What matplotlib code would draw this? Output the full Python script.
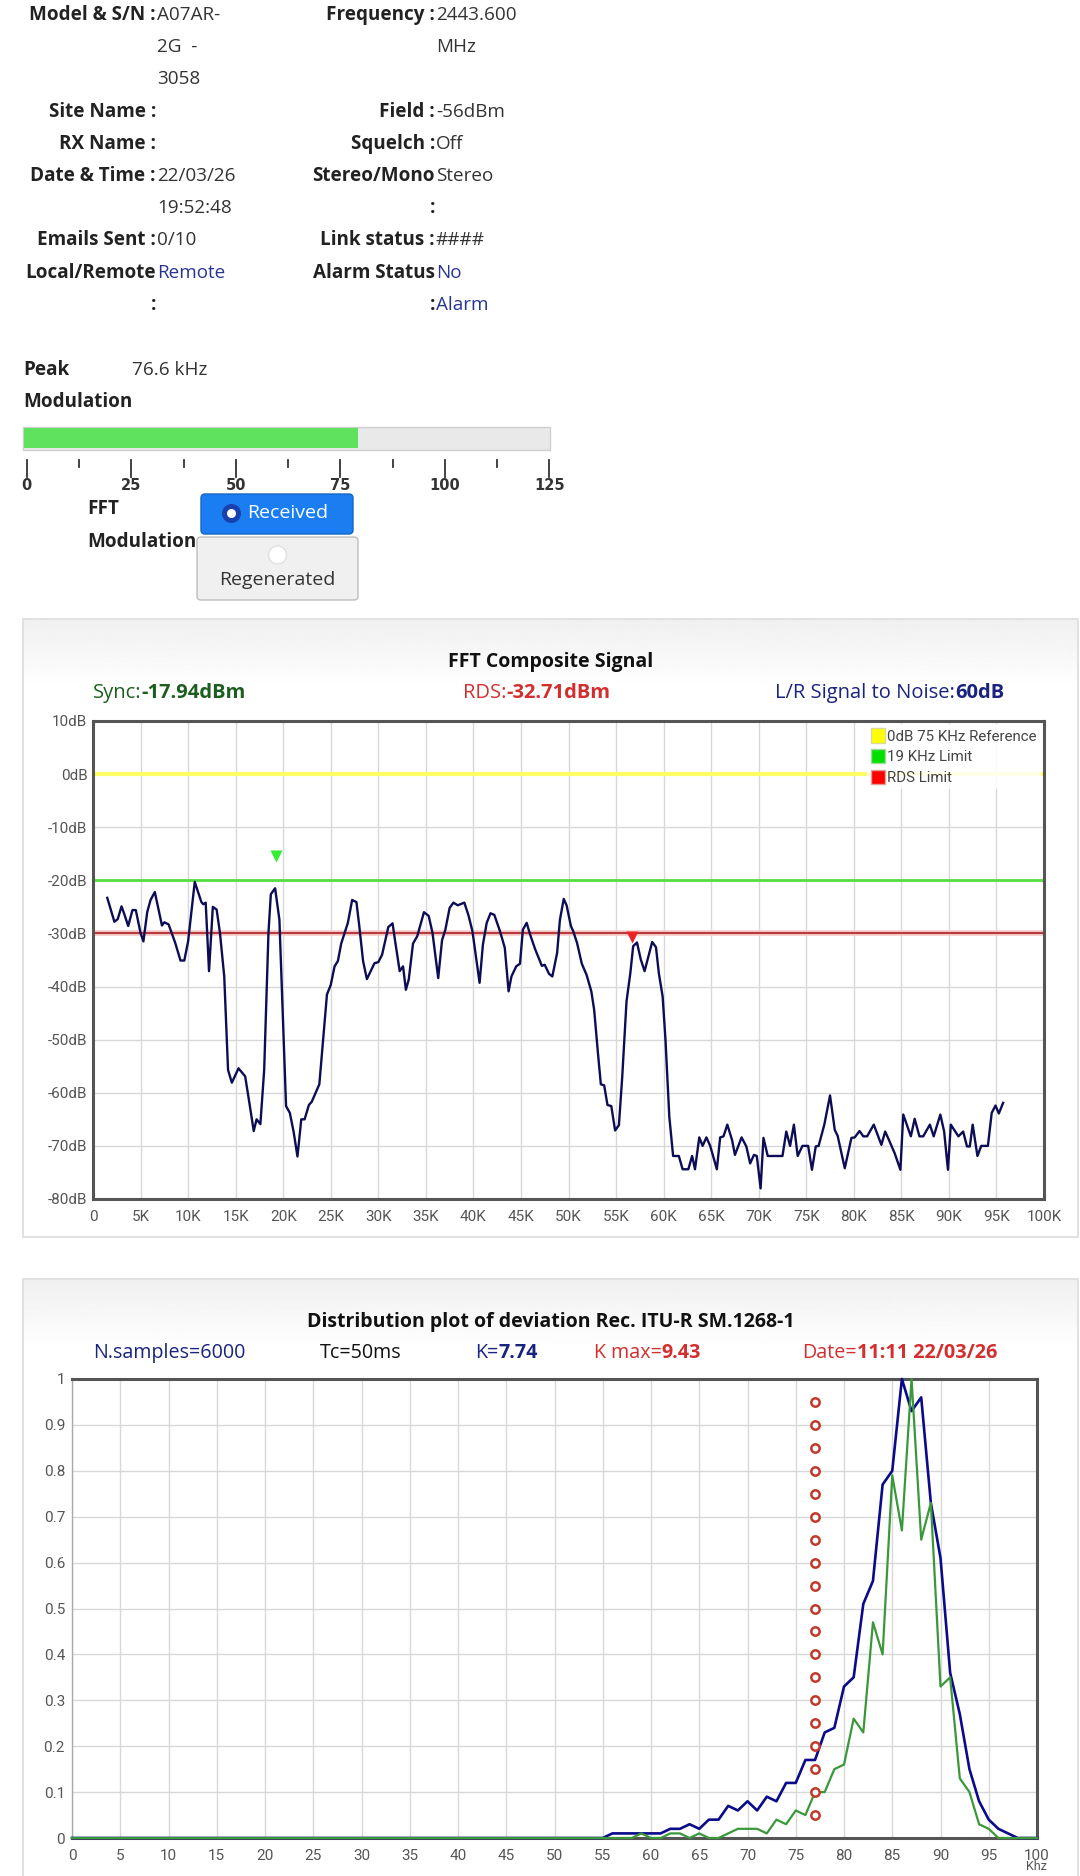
import matplotlib
matplotlib.use("Agg")
import matplotlib.pyplot as plt
import numpy as np
from matplotlib.patches import Rectangle, FancyBboxPatch, Circle, Patch

plt.rcParams['font.family'] = ['Roboto', 'DejaVu Sans']
UI = ['Open Sans', 'DejaVu Sans']   # wider face used for the page text

W, H = 1080, 1876

# ---- header table ----
left_labels = ["Model & S/N :", "", "", "Site Name :", "RX Name :", "Date & Time :", "",
               "Emails Sent :", "Local/Remote", ":"]
left_values = ["A07AR-", "2G  -", "3058", "", "", "22/03/26", "19:52:48", "0/10", "Remote", ""]
right_labels = ["Frequency :", "", "", "Field :", "Squelch :", "Stereo/Mono", ":",
                "Link status :", "Alarm Status", ":"]
right_values = ["2443.600", "MHz", "", "-56dBm", "Off", "Stereo", "", "####", "No", "Alarm"]
blue_values = ["Remote", "No", "Alarm"]

peak_text = "76.6 kHz"
bar_fill = 79.2          # level of the green bar on the 0..125 scale
bar_ticks = [0, 25, 50, 75, 100, 125]

# ---- FFT composite signal ----
fft_khz = [1.5, 2.25, 2.6, 3.0, 3.3, 3.7, 4.15, 4.5, 5.0, 5.3, 5.7, 6.05, 6.5, 7.25, 7.5, 7.95,
           8.65, 9.2, 9.6, 10.0, 10.7, 11.4, 11.6, 11.85, 12.2, 12.6, 13.0, 13.35, 13.8, 14.2,
           14.6, 15.3, 16.0, 16.4, 16.9, 17.2, 17.6, 18.0, 18.45, 18.7, 19.15, 19.6, 20.3, 20.7,
           21.1, 21.5, 21.9, 22.25, 22.7, 23.0, 23.8, 24.6, 25.0, 25.4, 25.75, 26.1, 26.8, 27.25,
           27.7, 28.0, 28.4, 28.8, 29.6, 30.0, 30.4, 31.05, 31.5, 31.8, 32.25, 32.6, 32.9, 33.2,
           33.65, 34.1, 34.8, 35.3, 35.7, 36.3, 36.7, 37.05, 37.5, 37.9, 38.35, 39.05, 39.5, 39.9,
           40.65, 41.0, 41.4, 41.8, 42.2, 42.8, 43.3, 43.7, 44.0, 44.5, 44.9, 45.2, 45.6, 46.0,
           46.5, 47.2, 47.5, 47.95, 48.3, 48.8, 49.1, 49.5, 49.8, 50.25, 50.5, 50.9, 51.4, 51.9,
           52.4, 52.7, 53.1, 53.4, 53.75, 54.1, 54.5, 54.9, 55.3, 55.65, 56.1, 56.5, 56.8, 57.2,
           57.6, 58.0, 58.5, 58.8, 59.2, 59.5, 59.9, 60.2, 60.6, 61.0, 61.6, 62.0, 62.6, 63.0,
           63.3, 63.75, 64.1, 64.5, 64.9, 65.6, 65.95, 66.3, 66.7, 67.2, 67.5, 68.2, 68.7, 69.1,
           69.5, 69.8, 70.2, 70.5, 70.95, 72.5, 72.9, 73.3, 73.7, 74.1, 74.6, 75.2, 75.6, 76.0,
           76.3, 76.9, 77.5, 78.0, 78.3, 79.05, 79.75, 80.1, 80.6, 81.0, 81.4, 82.1, 82.9, 83.3,
           83.7, 84.3, 84.9, 85.2, 86.0, 86.4, 86.9, 87.3, 88.0, 88.4, 89.1, 89.5, 89.9, 90.2,
           91.0, 91.5, 91.9, 92.2, 92.5, 93.0, 93.4, 94.1, 94.5, 94.9, 95.25, 95.7]
fft_db = [-23.3, -27.8, -27.3, -24.9, -26.4, -28.6, -25.6, -25.6, -29.9, -31.5, -26.0, -23.7,
          -22.2, -28.5, -27.9, -28.3, -31.8, -35.1, -35.1, -31.5, -20.3, -24.1, -24.5, -24.2,
          -37.1, -25.0, -25.5, -29.9, -38.1, -55.7, -58.1, -55.4, -56.9, -61.4, -67.2, -65.0,
          -65.9, -55.7, -29.9, -22.6, -21.5, -27.4, -62.5, -63.8, -67.4, -72.0, -65.0, -65.0,
          -62.3, -61.7, -58.4, -41.5, -39.7, -36.2, -35.2, -31.9, -28.0, -23.7, -24.1, -28.6,
          -35.2, -38.6, -35.6, -35.4, -34.0, -28.8, -28.1, -31.8, -37.1, -36.2, -40.6, -38.7,
          -31.9, -30.5, -26.0, -26.7, -29.9, -38.4, -31.3, -29.3, -25.2, -24.2, -24.7, -24.2,
          -26.7, -29.6, -39.3, -32.1, -28.0, -26.2, -26.5, -29.6, -32.7, -40.9, -38.1, -36.2,
          -35.7, -29.3, -28.0, -30.4, -33.0, -36.1, -35.9, -37.6, -38.1, -33.7, -27.4, -23.5,
          -24.7, -28.6, -29.6, -31.8, -35.7, -37.8, -40.9, -44.4, -52.6, -58.4, -58.6, -62.3,
          -62.5, -67.1, -66.1, -57.0, -42.8, -37.5, -32.4, -31.7, -34.9, -37.1, -33.7, -31.6,
          -32.6, -37.5, -41.9, -50.1, -64.5, -71.9, -71.9, -74.4, -74.4, -71.9, -74.4, -68.4,
          -70.0, -68.4, -70.0, -74.4, -68.4, -68.2, -66.0, -68.9, -71.7, -68.4, -70.1, -73.3,
          -71.7, -71.9, -78.0, -68.5, -71.9, -71.9, -67.3, -70.0, -66.0, -71.9, -70.0, -70.0,
          -74.5, -70.1, -70.0, -66.0, -60.5, -67.0, -68.1, -74.2, -68.5, -68.4, -67.2, -68.2,
          -68.2, -66.0, -69.8, -67.3, -68.9, -71.4, -74.5, -64.1, -68.2, -64.9, -68.2, -68.2,
          -66.0, -68.2, -64.1, -67.3, -74.5, -66.0, -68.2, -67.3, -70.1, -70.1, -66.0, -71.9,
          -70.0, -70.0, -63.8, -62.4, -63.9, -61.9]
ref_levels = [0, -20, -30]   # 0dB 75 KHz reference, 19 KHz limit, RDS limit
pilot_marker = (19.2, -15.4)
rds_marker = (56.7, -30.6)

# ---- deviation distribution ----
dist_khz = list(range(0, 101))
all_samples = [0.0] * 55 + [0.0, 0.01, 0.01, 0.01, 0.01, 0.01, 0.01, 0.02, 0.02, 0.03, 0.02,
                            0.04, 0.04, 0.07, 0.06, 0.08, 0.06, 0.09, 0.08, 0.12, 0.12, 0.17,
                            0.17, 0.23, 0.24, 0.33, 0.35, 0.51, 0.56, 0.77, 0.80, 1.00, 0.93,
                            0.96, 0.73, 0.61, 0.36, 0.27, 0.15, 0.08, 0.04, 0.02, 0.01, 0.0,
                            0.0, 0.0]
current = [0.0] * 55 + [0.0, 0.0, 0.0, 0.0, 0.01, 0.0, 0.0, 0.01, 0.01, 0.0, 0.01, 0.0, 0.0,
                        0.01, 0.02, 0.02, 0.02, 0.01, 0.04, 0.03, 0.06, 0.05, 0.10, 0.10, 0.15,
                        0.16, 0.26, 0.23, 0.47, 0.40, 0.79, 0.67, 1.00, 0.65, 0.73, 0.33, 0.35,
                        0.13, 0.10, 0.03, 0.02, 0.0, 0.0, 0.0, 0.0, 0.0]
limit_khz = 77
limit_levels = [0.05, 0.10, 0.15, 0.20, 0.25, 0.30, 0.35, 0.40, 0.45, 0.50, 0.55, 0.60,
                0.65, 0.70, 0.75, 0.80, 0.85, 0.90, 0.95]

fig = plt.figure(figsize=(W / 100, H / 100), dpi=100)
fig.patch.set_facecolor('white')
bg = fig.add_axes([0, 0, 1, 1], zorder=0)
bg.set_xlim(0, W)
bg.set_ylim(H, 0)
bg.axis('off')
r = fig.canvas.get_renderer()


def pair(x, y, a, b, color, size):
    t = bg.text(x, y, a, color=color, fontsize=size, va='center', ha='left', family=UI)
    bb = t.get_window_extent(renderer=r)
    x2 = bg.transData.inverted().transform((bb.x1, bb.y0))[0]
    bg.text(x2, y, b, color=color, fontsize=size, va='center', ha='left',
            fontweight='bold', family=UI)


# header rows
for i in range(len(left_labels)):
    y = 15 + i * 32.2
    bg.text(156, y, left_labels[i], ha='right', va='center', fontsize=13.6,
            fontweight='bold', color='#222222', family=UI)
    c = '#283593' if left_values[i] in blue_values else '#333333'
    bg.text(157, y, left_values[i], ha='left', va='center', fontsize=13.6, color=c, family=UI)
    bg.text(435, y, right_labels[i], ha='right', va='center', fontsize=13.6,
            fontweight='bold', color='#222222', family=UI)
    c = '#283593' if right_values[i] in blue_values else '#333333'
    bg.text(436, y, right_values[i], ha='left', va='center', fontsize=13.6, color=c, family=UI)

# peak modulation
bg.text(23, 370, "Peak", fontsize=13.6, fontweight='bold', va='center', color='#222222',
        family=UI)
bg.text(132, 370, peak_text, fontsize=13.6, va='center', color='#333333', family=UI)
bg.text(23, 402, "Modulation", fontsize=13.6, fontweight='bold', va='center',
        color='#222222', family=UI)
bg.add_patch(Rectangle((23, 427), 527, 23, facecolor='#e9e9e9', edgecolor='#cfcfcf', lw=1))
x0, per = 26.8, 4.18
bg.add_patch(Rectangle((24, 428.5), x0 + bar_fill * per - 24, 20, facecolor='#5fe35f',
                       edgecolor='none'))
for v in bar_ticks:
    xx = x0 + v * per
    bg.plot([xx, xx], [460, 477], color='#333333', lw=1.3)
    bg.text(xx, 486, str(v), ha='center', va='center', fontsize=10.5,
            family='DejaVu Sans', fontweight='bold', color='#333333')
for v in bar_ticks[:-1]:
    xx = x0 + (v + 12.5) * per
    bg.plot([xx, xx], [460, 467], color='#333333', lw=1.3)

bg.text(87.5, 509, "FFT", fontsize=13.6, fontweight='bold', va='center', color='#222222',
        family=UI)
bg.text(87.5, 542, "Modulation", fontsize=13.6, fontweight='bold', va='center',
        color='#222222', family=UI)
bg.add_patch(FancyBboxPatch((197, 537), 161, 63, boxstyle="round,pad=0,rounding_size=4",
                            facecolor='#f0f0f0', edgecolor='#bdbdbd', lw=1))
bg.add_patch(Circle((277.5, 555), 9, facecolor='white', edgecolor='#e0e0e0', lw=1))
bg.text(277.5, 580, "Regenerated", ha='center', va='center', fontsize=14, color='#333333',
        family=UI)
bg.add_patch(FancyBboxPatch((201, 494), 152, 40, boxstyle="round,pad=0,rounding_size=4",
                            facecolor='#1a7ef2', edgecolor='#1565c0', lw=1))
bg.add_patch(Circle((231.5, 513.5), 9.5, facecolor='#1a3fae', edgecolor='none'))
bg.add_patch(Circle((231.5, 513.5), 4.5, facecolor='white', edgecolor='none'))
bg.text(247, 513.5, "Received", ha='left', va='center', fontsize=14, color='white', family=UI)

# panels
grad = np.linspace(0.94, 1.0, 64).reshape(-1, 1)
for top, bottom in [(619, 1237), (1279, 1900)]:
    bg.add_patch(Rectangle((23, top), 1055, bottom - top, facecolor='white',
                           edgecolor='#dcdcdc', lw=1.2))
    bg.imshow(grad, cmap='gray', vmin=0, vmax=1, extent=(24, 1077, top + 70, top + 1),
              aspect='auto', zorder=1)
bg.set_xlim(0, W)
bg.set_ylim(H, 0)

# FFT titles
bg.text(551, 662, "FFT Composite Signal", ha='center', va='center', fontsize=14,
        fontweight='bold', color='#111111', zorder=3, family=UI)
pair(93, 693, "Sync:", "-17.94dBm", '#1b5e20', 14.5)
pair(463, 693, "RDS:", "-32.71dBm", '#d32f2f', 14.5)
pair(775, 693, "L/R Signal to Noise:", "60dB", '#1a237e', 14.5)

ax1 = fig.add_axes([93 / W, 1 - 1199 / H, 951 / W, 478 / H], zorder=2)
ax1.set_xlim(0, 100)
ax1.set_ylim(-80, 10)
ax1.set_xticks(range(0, 101, 5))
ax1.set_xticklabels(['0'] + [f'{k}K' for k in range(5, 101, 5)])
ax1.set_yticks(range(-80, 11, 10))
ax1.set_yticklabels([f'{v}dB' for v in range(-80, 11, 10)])
ax1.tick_params(length=0, labelsize=11, labelcolor='#555555', pad=4)
ax1.tick_params(axis='x', pad=8)
ax1.grid(color='#d8d8d8', lw=1)
ax1.set_axisbelow(True)
for s in ax1.spines.values():
    s.set_color('#555555')
    s.set_linewidth(2.2)
ax1.axhline(ref_levels[0], color='#ffff66', lw=3)
ax1.axhline(ref_levels[1], color='#55dd44', lw=2)
ax1.axhline(ref_levels[2], color='#f6caca', lw=4)
ax1.axhline(ref_levels[2], color='#b83b3b', lw=1.5)
ax1.plot(fft_khz, fft_db, color='#0d0d55', lw=1.7)
ax1.plot(*pilot_marker, marker='v', color='#33ee33', markersize=8, mec='none')
ax1.plot(*rds_marker, marker='v', color='#ee2222', markersize=8, mec='none')
handles = [Patch(facecolor='#ffff00', edgecolor='#d8d8a0', label='0dB 75 KHz Reference'),
           Patch(facecolor='#00e000', edgecolor='#a0d8a0', label='19 KHz Limit'),
           Patch(facecolor='#ff0000', edgecolor='#e0a0a0', label='RDS Limit')]
leg = ax1.legend(handles=handles, loc='upper right', fontsize=10.8, handlelength=0.9,
                 handleheight=1.1, handletextpad=0.15, labelspacing=0.35, borderpad=0.3,
                 borderaxespad=0.2, framealpha=0.85, fancybox=False, edgecolor='none')
for t in leg.get_texts():
    t.set_color('#444444')

# distribution titles
bg.text(551, 1322, "Distribution plot of deviation Rec. ITU-R SM.1268-1", ha='center',
        va='center', fontsize=14, fontweight='bold', color='#111111', zorder=3, family=UI)
bg.text(93, 1353, "N.samples=6000", va='center', fontsize=14.2, color='#1a237e', family=UI)
bg.text(320, 1353, "Tc=50ms", va='center', fontsize=14.2, color='#111111', family=UI)
pair(475, 1353, "K=", "7.74", '#1a237e', 14.2)
pair(594, 1353, "K max=", "9.43", '#d32f2f', 14.2)
pair(802, 1353, "Date=", "11:11 22/03/26", '#d32f2f', 14.2)

ax2 = fig.add_axes([72 / W, 1 - 1838 / H, 965 / W, 459 / H], zorder=2)
ax2.set_xlim(0, 100)
ax2.set_ylim(0, 1)
ax2.set_xticks(range(0, 101, 5))
ax2.set_yticks([i / 10 for i in range(11)])
ax2.set_yticklabels(['0'] + [f'0.{i}' for i in range(1, 10)] + ['1'])
ax2.tick_params(length=0, labelsize=11, labelcolor='#555555', pad=5)
ax2.tick_params(axis='x', pad=8)
ax2.grid(color='#d8d8d8', lw=1)
ax2.set_axisbelow(True)
for s in ax2.spines.values():
    s.set_color('#555555')
    s.set_linewidth(2.2)
ax2.spines['left'].set_color('#aaaaaa')
ax2.spines['left'].set_linewidth(1)
ax2.plot(dist_khz, all_samples, color='#0a0a8a', lw=1.9, clip_on=False, zorder=4)
ax2.plot(dist_khz, current, color='#3a983a', lw=1.6, clip_on=False, zorder=5)
ax2.plot([limit_khz] * len(limit_levels), limit_levels, ls='none', marker='o',
         markersize=6, mfc='white', mec='#c0392b', mew=1.8, zorder=6)
pair(116, 1408, "Current:", "5976", '#3a983a', 12.8)
bg.text(1036, 1867, "Khz", ha='center', va='center', fontsize=9, color='#555555')

fig.savefig("out.png", dpi=100, facecolor='white')
